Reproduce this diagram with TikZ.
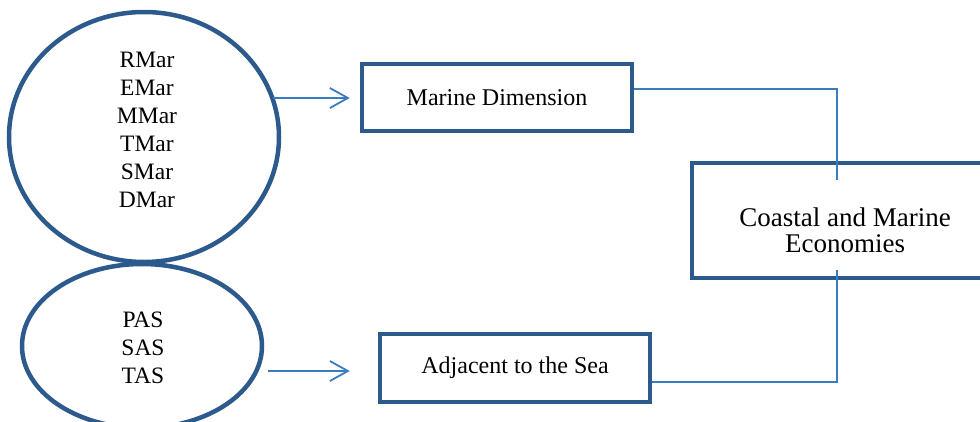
\documentclass[tikz,border=0pt]{standalone}
\usepackage{fontspec}
\setmainfont{Liberation Serif}
\usetikzlibrary{arrows.meta,calc,shapes.geometric}
\definecolor{darkb}{HTML}{2C5A8C}
\definecolor{lightb}{HTML}{3A7CC2}
\begin{document}
\begin{tikzpicture}[x=1pt,y=-1pt,
  oval/.style={draw=darkb,line width=4.5pt,ellipse,inner sep=0pt},
  txt/.style={align=center,inner sep=0pt,font=\fontsize{23.5}{28}\selectfont},
  box/.style={draw=darkb,line width=4.5pt,rectangle,inner sep=0pt,align=center,font=\fontsize{24}{28}\selectfont},
  link/.style={draw=lightb,line width=1.8pt},
  arr/.style={link,-{Straight Barb[length=18pt,width=20pt,line width=1.8pt]}}]
\useasboundingbox (0,0) rectangle (980,421);
\clip (0,0) rectangle (980,421);
\node[oval,minimum width=270,minimum height=250] (e1) at (144,137) {};
\node[txt] (e1t) at (147,130) {RMar\\EMar\\MMar\\TMar\\SMar\\DMar};
\node[oval,minimum width=240,minimum height=164] (e2) at (142,346) {};
\node[txt] (e2t) at (143,348) {PAS\\SAS\\TAS};
\node[box,minimum width=270,minimum height=67] (md) at (497,97.5) {Marine Dimension};
\node[box,minimum width=270,minimum height=68] (ad) at (515,368) {Adjacent to the Sea};
\node[box,minimum width=306,minimum height=115] (ce) at (845,220.5) {};
\node[txt,font=\fontsize{27}{26}\selectfont] (cet) at (845,230) {Coastal and Marine\\Economies};
\coordinate (t1) at (837,180);
\coordinate (t2) at (837,270);
\coordinate (s1) at (273,98);
\coordinate (s2) at (268,371);
\draw[arr] (s1) -- ([xshift=-10pt]s1 -| md.west) coordinate (a1);
\draw[arr] (s2) -- ([xshift=-28pt]s2 -| ad.west) coordinate (a2);
\draw[link] (md.east |- 0,89) -| (t1);
\draw[link] (ad.east |- 0,382) -| (t2);
\end{tikzpicture}
\end{document}
